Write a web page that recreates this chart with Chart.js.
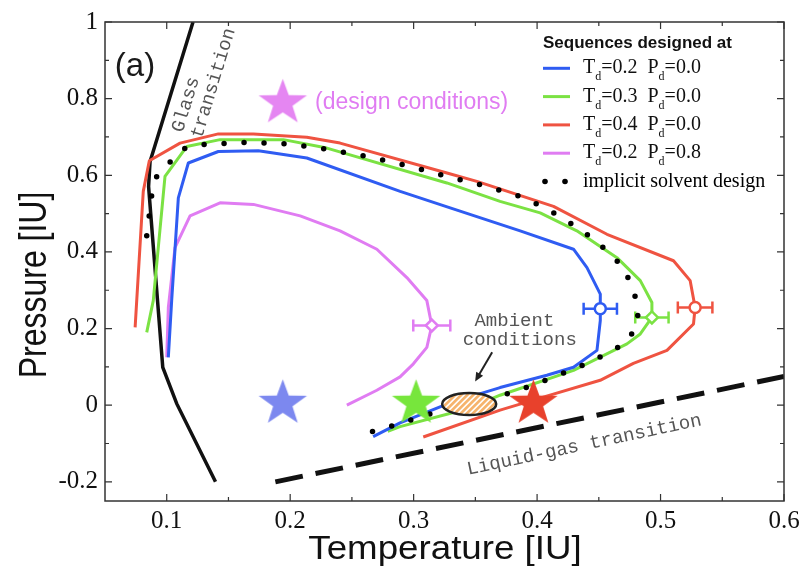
<!DOCTYPE html>
<html>
<head>
<meta charset="utf-8">
<script src="https://cdn.jsdelivr.net/npm/chart.js@4.4.0/dist/chart.umd.min.js"></script>
<style>
    html, body { margin: 0; padding: 0; background: #fff; }
    #contenedor { width: 806px; height: 570px; }
</style>
</head>
<body>
<div id="contenedor"><canvas id="grafica-fases"></canvas></div>
<script>
// Curvas: temperatura (T) y presion (P) en IU
const blueT = [0.1013, 0.104, 0.1094, 0.1175, 0.1418, 0.1742, 0.2135, 0.2891, 0.3296, 0.3863, 0.4295, 0.4404, 0.4512, 0.4512, 0.4512, 0.4485, 0.4295, 0.4079, 0.370, 0.3295, 0.289, 0.2672];
const blueP = [0.125, 0.273, 0.541, 0.632, 0.662, 0.664, 0.645, 0.558, 0.515, 0.455, 0.407, 0.359, 0.290, 0.252, 0.221, 0.143, 0.099, 0.078, 0.046, 0.006, -0.046, -0.082];

const greenT = [0.0838, 0.0891, 0.0986, 0.1162, 0.1432, 0.1945, 0.2297, 0.3269, 0.370, 0.4025, 0.4322, 0.4647, 0.4836, 0.493, 0.493, 0.4836, 0.4728, 0.4295, 0.370, 0.343, 0.289, 0.279];
const greenP = [0.190, 0.273, 0.597, 0.675, 0.693, 0.693, 0.671, 0.580, 0.532, 0.502, 0.455, 0.385, 0.325, 0.268, 0.229, 0.186, 0.160, 0.091, 0.026, -0.010, -0.056, -0.068];

const redT = [0.0744, 0.081, 0.0859, 0.1108, 0.1418, 0.1702, 0.2135, 0.2404, 0.327, 0.3512, 0.4133, 0.4566, 0.5105, 0.524, 0.528, 0.5267, 0.5052, 0.478, 0.4511, 0.405, 0.370, 0.3078];
const redP = [0.203, 0.558, 0.638, 0.684, 0.708, 0.708, 0.699, 0.684, 0.606, 0.584, 0.519, 0.446, 0.377, 0.325, 0.255, 0.212, 0.143, 0.109, 0.065, 0.021, -0.013, -0.083];

const pinkT = [0.100, 0.1013, 0.1067, 0.1189, 0.1432, 0.1702, 0.2081, 0.2404, 0.2702, 0.2945, 0.3107, 0.3147, 0.3107, 0.2998, 0.289, 0.2702, 0.2459];
const pinkP = [0.125, 0.255, 0.411, 0.494, 0.528, 0.524, 0.494, 0.455, 0.407, 0.333, 0.273, 0.208, 0.151, 0.108, 0.074, 0.039, 0.0];

const implicitT = [0.0838, 0.0878, 0.0919, 0.1032, 0.1156, 0.1318, 0.1643, 0.1977, 0.2301, 0.2626, 0.295, 0.3269, 0.3593, 0.3904, 0.4195, 0.4471, 0.4706, 0.4822, 0.4809, 0.4722, 0.443, 0.4125, 0.3822, 0.3188, 0.2864, 0.254];
const implicitP = [0.442, 0.547, 0.597, 0.636, 0.673, 0.681, 0.686, 0.682, 0.668, 0.649, 0.625, 0.597, 0.571, 0.541, 0.491, 0.431, 0.358, 0.260, 0.208, 0.163, 0.112, 0.072, 0.035, -0.017, -0.050, -0.081];

// Transiciones
const glassT = [0.1213, 0.0865, 0.0853, 0.0968, 0.1081, 0.1395];
const glassP = [1.0, 0.636, 0.571, 0.099, 0.004, -0.2];
const liquidGasT = [0.188, 0.6];
const liquidGasP = [-0.2, 0.075];

// Barras de error (azul, verde, rojo, rosa)
const errT = [0.4512, 0.493, 0.528, 0.3147];
const errP = [0.252, 0.229, 0.255, 0.208];
const errDT = [0.0135, 0.0135, 0.014, 0.015];

// Estrellas: diseno (rosa), azul, verde, rojo
const starT = [0.194, 0.194, 0.302, 0.397];
const starP = [0.789, 0.005, 0.005, 0.005];

// Condiciones ambiente (elipse)
const ambientT = [0.345];
const ambientP = [0.003];

// Ejes
const xTicks = [0.1, 0.2, 0.3, 0.4, 0.5, 0.6];
const xTickLabels = ["0.1", "0.2", "0.3", "0.4", "0.5", "0.6"];
const yTicks = [-0.2, 0, 0.2, 0.4, 0.6, 0.8, 1];
const yTickLabels = ["-0.2", "0", "0.2", "0.4", "0.6", "0.8", "1"];

// Leyenda
const legendTd = ["0.2", "0.3", "0.4", "0.2"];
const legendPd = ["0.0", "0.0", "0.0", "0.8"];

const azul = "#2f5cf2";
const verde = "#7be243";
const rojo = "#ef5341";
const rosa = "#e07cf2";
const coloresCurvas = [azul, verde, rojo, rosa];
const coloresEstrellas = ["#e586f2", "#7c88ef", "#77e63c", "#e8412c"];

function puntos(ts, ps) {
    return ts.map((t, i) => ({ x: t, y: ps[i] }));
}

function estrella(color, r) {
    const c = document.createElement("canvas");
    const size = Math.ceil(r * 2.2) + 2;
    c.width = size;
    c.height = size;
    const g = c.getContext("2d");
    g.translate(size / 2, size / 2);
    g.beginPath();
    for (let i = 0; i < 10; i++) {
        const rad = i % 2 ? r * 0.40 : r;
        const a = -Math.PI / 2 + i * Math.PI / 5;
        g.lineTo(rad * Math.cos(a) * 1.06, rad * Math.sin(a));
    }
    g.closePath();
    g.fillStyle = color;
    g.fill();
    return c;
}

function curva(data, color, order) {
    return {
        data: data,
        showLine: true,
        borderColor: color,
        borderWidth: 3,
        borderJoinStyle: "round",
        pointRadius: 0,
        fill: false,
        order: order
    };
}

function escribir(ctx, str, x, y, font, color, align, base, ang) {
    ctx.save();
    ctx.translate(x, y);
    if (ang) ctx.rotate(ang * Math.PI / 180);
    ctx.font = font;
    ctx.fillStyle = color;
    ctx.textAlign = align;
    ctx.textBaseline = base;
    ctx.fillText(str, 0, 0);
    ctx.restore();
}

const anotaciones = {
    id: "anotaciones",
    beforeDatasetsDraw(chart) {
        const ctx = chart.ctx, xs = chart.scales.x, ys = chart.scales.y;
        ctx.save();
        ctx.lineWidth = 2.5;
        errT.forEach((t, i) => {
            const y = ys.getPixelForValue(errP[i]);
            const x1 = xs.getPixelForValue(t - errDT[i]);
            const x2 = xs.getPixelForValue(t + errDT[i]);
            ctx.strokeStyle = coloresCurvas[i];
            ctx.beginPath();
            ctx.moveTo(x1, y); ctx.lineTo(x2, y);
            ctx.moveTo(x1, y - 6); ctx.lineTo(x1, y + 6);
            ctx.moveTo(x2, y - 6); ctx.lineTo(x2, y + 6);
            ctx.stroke();
        });
        ctx.restore();
    },
    afterDatasetsDraw(chart) {
        const ctx = chart.ctx, xs = chart.scales.x, ys = chart.scales.y;
        const px = v => xs.getPixelForValue(v);
        const py = v => ys.getPixelForValue(v);

        // elipse rayada de condiciones ambiente
        const cx = px(ambientT[0]), cy = py(ambientP[0]);
        ctx.save();
        ctx.beginPath();
        ctx.ellipse(cx, cy, 27, 11, 0, 0, Math.PI * 2);
        ctx.fillStyle = "#f6b36c";
        ctx.fill();
        ctx.clip();
        ctx.strokeStyle = "#fff";
        ctx.lineWidth = 1.6;
        for (let k = -50; k <= 50; k += 6) {
            ctx.beginPath();
            ctx.moveTo(cx + k - 12, cy + 12);
            ctx.lineTo(cx + k + 12, cy - 12);
            ctx.stroke();
        }
        ctx.restore();
        ctx.save();
        ctx.beginPath();
        ctx.ellipse(cx, cy, 27, 11, 0, 0, Math.PI * 2);
        ctx.strokeStyle = "#222";
        ctx.lineWidth = 2.5;
        ctx.stroke();
        ctx.restore();

        // flecha
        const ax1 = px(0.3636), ay1 = py(0.138), ax2 = px(0.3498), ay2 = py(0.062);
        const ang = Math.atan2(ay2 - ay1, ax2 - ax1);
        ctx.save();
        ctx.strokeStyle = "#222";
        ctx.fillStyle = "#222";
        ctx.lineWidth = 2;
        ctx.beginPath();
        ctx.moveTo(ax1, ay1);
        ctx.lineTo(ax2 - 6 * Math.cos(ang), ay2 - 6 * Math.sin(ang));
        ctx.stroke();
        ctx.beginPath();
        ctx.moveTo(ax2, ay2);
        ctx.lineTo(ax2 - 9 * Math.cos(ang) + 4 * Math.sin(ang), ay2 - 9 * Math.sin(ang) - 4 * Math.cos(ang));
        ctx.lineTo(ax2 - 9 * Math.cos(ang) - 4 * Math.sin(ang), ay2 - 9 * Math.sin(ang) + 4 * Math.cos(ang));
        ctx.closePath();
        ctx.fill();
        ctx.restore();

        const mono = '19px "Liberation Mono"';
        const gris = "#555";
        escribir(ctx, "Ambient", px(0.3816), py(0.221), mono, gris, "center", "middle");
        escribir(ctx, "conditions", px(0.386), py(0.171), mono, gris, "center", "middle");
        escribir(ctx, "Liquid-gas transition", px(0.4382), py(-0.104), mono, gris, "center", "middle", -12);

        // Glass transition, dos lineas giradas
        ctx.save();
        ctx.translate(px(0.1089), py(0.7135));
        ctx.rotate(-73 * Math.PI / 180);
        ctx.font = mono;
        ctx.fillStyle = gris;
        ctx.textAlign = "left";
        ctx.textBaseline = "middle";
        ctx.fillText("Glass", 0, 0);
        ctx.fillText("transition", 0, 20);
        ctx.restore();

        escribir(ctx, "(design conditions)", px(0.2202), py(0.79), '23px "Liberation Sans"', "#e07cf2", "left", "middle");
        escribir(ctx, "(a)", px(0.0743), py(0.883), '33px "Liberation Sans"', "#1a1a1a", "center", "middle");
    },
    afterDraw(chart) {
        const ctx = chart.ctx, a = chart.chartArea, xs = chart.scales.x, ys = chart.scales.y;
        ctx.save();
        ctx.strokeStyle = "#333";
        ctx.lineWidth = 1.5;
        ctx.strokeRect(a.left, a.top, a.right - a.left, a.bottom - a.top);

        // marcas hacia dentro en los cuatro lados
        ctx.lineWidth = 1.2;
        ctx.beginPath();
        const marcaX = (v, l) => {
            const x = xs.getPixelForValue(v);
            ctx.moveTo(x, a.bottom); ctx.lineTo(x, a.bottom - l);
            ctx.moveTo(x, a.top); ctx.lineTo(x, a.top + l);
        };
        const marcaY = (v, l) => {
            const y = ys.getPixelForValue(v);
            ctx.moveTo(a.left, y); ctx.lineTo(a.left + l, y);
            ctx.moveTo(a.right, y); ctx.lineTo(a.right - l, y);
        };
        xTicks.forEach((v, i) => {
            marcaX(v, 7);
            if (i < xTicks.length - 1) marcaX((v + xTicks[i + 1]) / 2, 4);
        });
        yTicks.forEach((v, i) => {
            marcaY(v, 7);
            if (i < yTicks.length - 1) marcaY((v + yTicks[i + 1]) / 2, 4);
        });
        ctx.stroke();
        ctx.restore();

        // titulos de ejes
        ctx.save();
        ctx.translate(445, 559);
        ctx.scale(1.08, 1);
        ctx.font = '34px "Liberation Sans"';
        ctx.fillStyle = "#111";
        ctx.textAlign = "center";
        ctx.textBaseline = "alphabetic";
        ctx.fillText("Temperature [IU]", 0, 0);
        ctx.restore();

        ctx.save();
        ctx.translate(46, 285);
        ctx.scale(1.2, 1);
        ctx.rotate(-Math.PI / 2);
        ctx.font = '32px "Liberation Sans"';
        ctx.fillStyle = "#111";
        ctx.textAlign = "center";
        ctx.textBaseline = "alphabetic";
        ctx.fillText("Pressure [IU]", 0, 0);
        ctx.restore();

        // leyenda
        const lx = 543;
        escribir(ctx, "Sequences designed at", lx, 43, 'bold 17px "Liberation Sans"', "#111", "left", "middle");
        ctx.save();
        legendTd.forEach((t, i) => {
            const y = 68.3 + 28.3 * i;
            ctx.strokeStyle = coloresCurvas[i];
            ctx.lineWidth = 3;
            ctx.beginPath();
            ctx.moveTo(lx, y); ctx.lineTo(lx + 27, y);
            ctx.stroke();
            const base = y + 5;
            let x = lx + 40;
            const trozos = [["T", 0], ["d", 1], ["=" + t + "  ", 0], ["P", 0], ["d", 1], ["=" + legendPd[i], 0]];
            ctx.fillStyle = "#111";
            ctx.textAlign = "left";
            ctx.textBaseline = "alphabetic";
            trozos.forEach(tr => {
                ctx.font = tr[1] ? '12px "Liberation Serif"' : '20px "Liberation Serif"';
                ctx.fillText(tr[0], x, tr[1] ? base + 7 : base);
                x += ctx.measureText(tr[0]).width;
            });
        });
        const yd = 68.3 + 28.3 * 4;
        ctx.fillStyle = "#000";
        [lx + 2, lx + 22].forEach(x => {
            ctx.beginPath();
            ctx.arc(x, yd, 2.8, 0, Math.PI * 2);
            ctx.fill();
        });
        ctx.font = '20px "Liberation Serif"';
        ctx.fillText("implicit solvent design", lx + 40, yd + 5);
        ctx.restore();
    }
};

const ctxFases = document.getElementById("grafica-fases").getContext("2d");

new Chart(ctxFases, {
    type: "scatter",
    data: {
        datasets: [
            {
                data: puntos(starT, starP),
                pointStyle: coloresEstrellas.map(c => estrella(c, 24)),
                pointRadius: 10,
                showLine: false,
                order: 0
            },
            {
                data: puntos(errT, errP),
                pointStyle: ["circle", "rectRot", "circle", "rectRot"],
                pointRadius: [5.5, 6, 5.5, 6],
                pointBackgroundColor: "#fff",
                pointBorderColor: coloresCurvas,
                pointBorderWidth: 2.5,
                showLine: false,
                order: 1
            },
            {
                data: puntos(implicitT, implicitP),
                showLine: true,
                borderColor: "#000",
                borderWidth: 5.5,
                borderDash: [0, 20],
                borderCapStyle: "round",
                pointRadius: 0,
                fill: false,
                order: 2
            },
            curva(puntos(blueT, blueP), azul, 3),
            curva(puntos(greenT, greenP), verde, 4),
            curva(puntos(redT, redP), rojo, 5),
            curva(puntos(pinkT, pinkP), rosa, 6),
            {
                data: puntos(glassT, glassP),
                showLine: true,
                borderColor: "#111",
                borderWidth: 3.5,
                pointRadius: 0,
                fill: false,
                order: 7
            },
            {
                data: puntos(liquidGasT, liquidGasP),
                showLine: true,
                borderColor: "#111",
                borderWidth: 5,
                borderDash: [28, 13],
                pointRadius: 0,
                fill: false,
                order: 8
            }
        ]
    },
    options: {
        responsive: true,
        maintainAspectRatio: false,
        animation: false,
        layout: {
            padding: { top: 21, right: 22, left: 0, bottom: 0 }
        },
        plugins: {
            legend: { display: false },
            tooltip: { enabled: false }
        },
        scales: {
            x: {
                type: "linear",
                min: 0.05,
                max: 0.6,
                grid: { display: false, drawTicks: false },
                border: { display: false },
                afterBuildTicks: s => { s.ticks = xTicks.map(v => ({ value: v })); },
                afterFit: s => { s.height = 69; },
                ticks: {
                    padding: 5,
                    color: "#111",
                    font: { family: "Liberation Serif", size: 25 },
                    callback: (v, i) => xTickLabels[i]
                }
            },
            y: {
                type: "linear",
                min: -0.25,
                max: 1,
                grid: { display: false, drawTicks: false },
                border: { display: false },
                afterBuildTicks: s => { s.ticks = yTicks.map(v => ({ value: v })); },
                afterFit: s => { s.width = 105; },
                ticks: {
                    padding: 7,
                    color: "#111",
                    font: { family: "Liberation Serif", size: 25 },
                    callback: (v, i) => yTickLabels[i]
                }
            }
        }
    },
    plugins: [anotaciones]
});
</script>
</body>
</html>
